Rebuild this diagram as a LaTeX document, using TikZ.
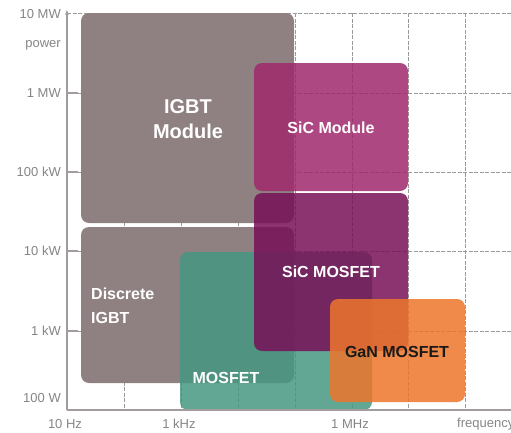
\documentclass[tikz,border=0pt]{standalone}
\usepackage{fontspec}
\setmainfont{Liberation Sans}
\usetikzlibrary{arrows.meta}
\definecolor{igbtc}{HTML}{8F8082}
\definecolor{tealc}{HTML}{469781}
\definecolor{sicmodc}{HTML}{A0286C}
\definecolor{sicmosc}{HTML}{771057}
\definecolor{ganc}{HTML}{ED752B}
\definecolor{labelc}{HTML}{858585}
\definecolor{gridc}{HTML}{9A9A9A}
\definecolor{axisc}{HTML}{A39C9C}
\begin{document}
\begin{tikzpicture}[x=1pt,y=-1pt,
  gridline/.style={draw=gridc,line width=0.9pt,dash pattern=on 4pt off 1.5pt},
  axisline/.style={draw=axisc,line width=1.4pt},
  tickline/.style={draw=axisc,line width=1.2pt},
  box/.style={rounded corners=8pt,fill opacity=0.85},
  solidbox/.style={rounded corners=8pt},
  ylab/.style={anchor=east,text=labelc,font=\fontsize{13}{15}\selectfont,inner sep=0pt},
  xlab/.style={text=labelc,font=\fontsize{13}{15}\selectfont,inner sep=0pt},
  wlab/.style={text=white,font=\bfseries\fontsize{16}{24}\selectfont,inner sep=0pt},
  blab/.style={text=black!90,font=\bfseries\fontsize{16}{24}\selectfont,inner sep=0pt}]
\useasboundingbox (0,0) rectangle (511,432);
% grid
\draw[gridline] (67,13) -- (511,13);
\foreach \y in {93,172,251,331} \draw[gridline] (67,\y) -- (511,\y);
\foreach \x in {124,181,238,295,352,408,465} \draw[gridline] (\x,13) -- (\x,410);
% boxes
\fill[solidbox,igbtc] (81,13) rectangle (294,223);
\fill[solidbox,igbtc] (81,227) rectangle (294,383);
\fill[box,tealc] (180,252) rectangle (372,410);
\fill[box,sicmodc] (254,63) rectangle (408,191);
\fill[box,sicmosc] (254,193) rectangle (408,351);
\fill[box,ganc] (330,299) rectangle (465,402);
% axes
\coordinate (origin) at (67,410);
\coordinate (xend) at (511,410);
\coordinate (ytop) at (67,10);
\foreach \y in {93,172,251,331} \draw[tickline] (67,\y) -- (78,\y);
\draw[axisline] (origin) -- (xend);
\draw[axisline,-{Stealth[length=5pt,width=4pt]}] (origin) -- (ytop);
% axis labels
\node[ylab] (l10MW) at (61,14) {10 MW};
\node[ylab] (lpow) at (61,45) {power};
\node[ylab] (l1MW) at (61,93) {1 MW};
\node[ylab] (l100kW) at (61,172) {100 kW};
\node[ylab] (l10kW) at (61,251) {10 kW};
\node[ylab] (l1kW) at (61,331) {1 kW};
\node[ylab] (l100W) at (61,398) {100 W};
\node[xlab] (l10Hz) at (65,424) {10 Hz};
\node[xlab] (l1kHz) at (179,424) {1 kHz};
\node[xlab] (l1MHz) at (350,424) {1 MHz};
\node[xlab,anchor=west] (lfreq) at (457,424) {frequency};
% box labels
\node[wlab,font=\bfseries\fontsize{20}{25}\selectfont,align=center] (tigbt) at (188,119) {IGBT\\Module};
\node[wlab,align=left,anchor=west] (tdisc) at (91,306) {Discrete\\IGBT};
\node[wlab] (tmos) at (226,378) {MOSFET};
\node[wlab] (tsicmod) at (331,128) {SiC Module};
\node[wlab] (tsicmos) at (331,272) {SiC MOSFET};
\node[blab] (tgan) at (397,352) {GaN MOSFET};
\end{tikzpicture}
\end{document}
